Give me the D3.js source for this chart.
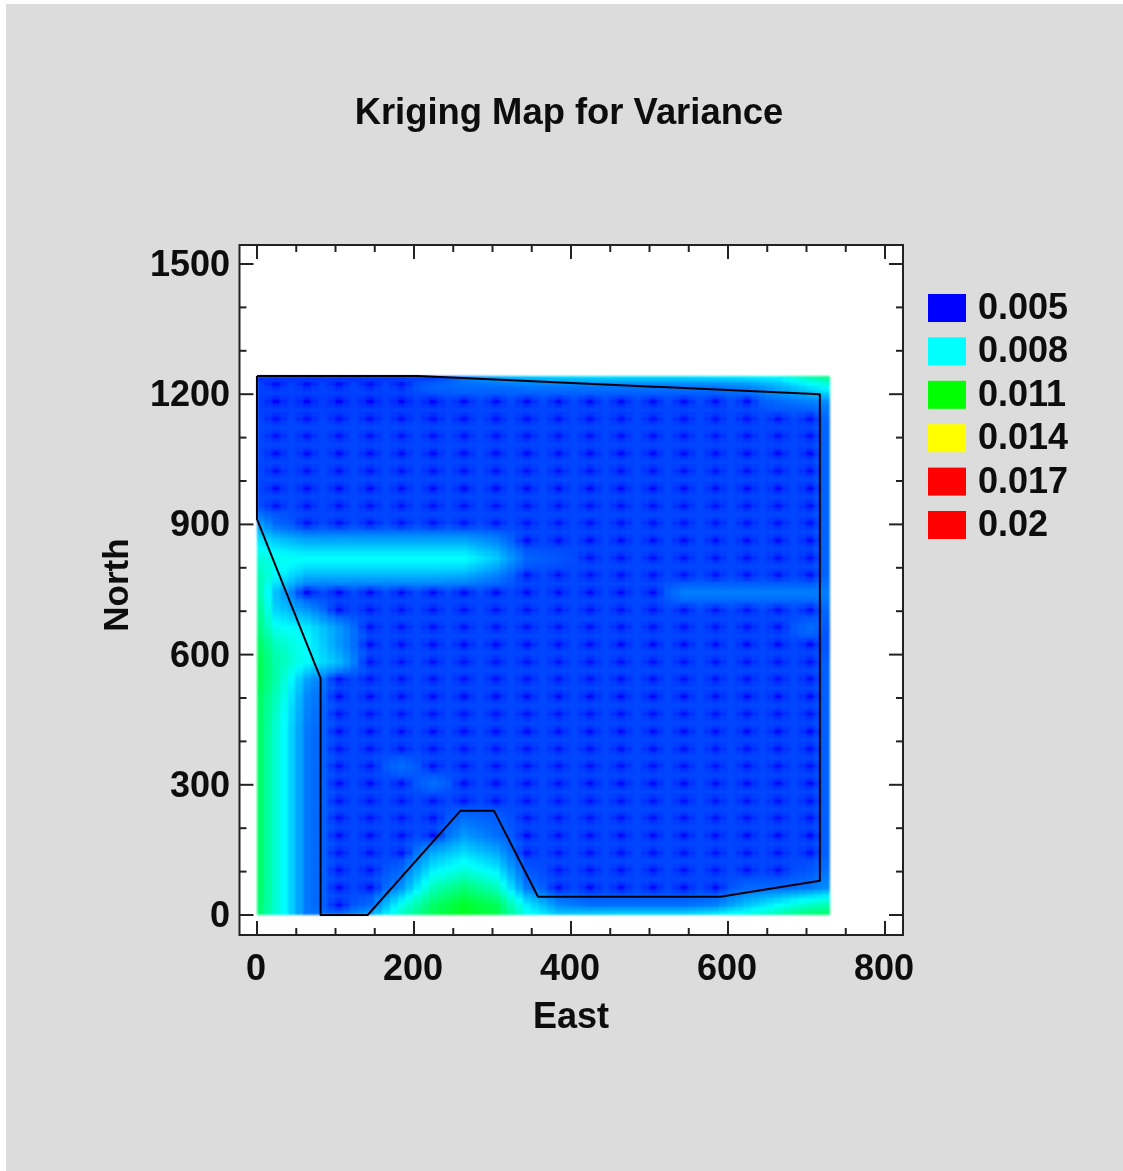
<!DOCTYPE html>
<html><head><meta charset="utf-8">
<script src="https://cdn.jsdelivr.net/npm/d3@7/dist/d3.min.js"></script>
<style>html,body{margin:0;padding:0;background:#fff}svg{display:block}text{font-family:"Liberation Sans",Arial,sans-serif;font-weight:bold;fill:#0c0c0c}</style>
</head><body><div id="chart"></div>
<script>
const titleText = "Kriging Map for Variance";
const xLabel = "East", yLabel = "North";
const xMajor = [0,200,400,600,800];
const xMinor = [50,100,150,250,300,350,450,500,550,650,700,750];
const yMajor = [0,300,600,900,1200,1500];
const yMinor = [100,200,400,500,700,800,1000,1100,1300,1400];
const legendLabels = ["0.005","0.008","0.011","0.014","0.017","0.02"];
const legendValues = [0.005,0.008,0.011,0.014,0.017,0.02];
const legendColors = ["#0000ff","#00ffff","#00ff00","#ffff00","#ff0000","#ff0000"];
const eastNodes = [0,24,64,104,144,184,224,264,304,344,384,424,464,504,544,584,624,664,704,730];
const northNodes = [1242,1220,1181,1141,1101,1061,1021,981,941,901,862,822,782,742,702,662,622,583,543,503,463,423,383,343,304,264,224,184,144,104,64,24,0];
// variance × 10000, one row per north node (top to bottom), one value per east node
const varianceRows = [
[55,55,55,55,55,56,56,64,70,73,75,76,76,76,76,77,78,80,90,95],
[58,58,58,58,58,58,62,63,63,64,64,64,64,64,64,64,66,71,78,82],
[57,57,57,57,57,57,57,58,58,58,58,58,58,58,58,58,59,62,64,66],
[58,58,58,58,58,58,58,58,58,58,58,58,58,58,58,58,58,58,58,63],
[58,58,58,58,58,58,58,58,58,58,58,58,58,58,58,58,58,58,58,63],
[58,58,58,58,58,58,58,58,58,58,58,58,58,58,58,58,58,58,58,63],
[58,58,58,58,58,58,58,58,58,58,58,58,58,58,58,58,58,58,58,63],
[58,58,58,58,58,58,58,58,58,58,58,58,58,58,58,58,58,58,58,63],
[59,59,58,58,58,58,58,58,58,58,58,58,58,58,58,58,58,58,58,63],
[70,62,58,58,58,58,58,58,58,58,58,58,58,58,58,58,58,58,58,63],
[78,74,70,70,70,70,70,70,66,58,58,58,58,58,58,58,58,58,58,63],
[85,82,81,81,81,81,81,81,74,62,60,58,58,58,58,58,58,58,58,63],
[90,80,71,71,71,71,71,70,65,58,58,58,58,58,58,58,58,58,58,63],
[92,72,58,58,58,58,58,58,58,58,58,58,58,58,65,65,65,65,65,65],
[95,75,68,58,58,58,58,58,58,58,58,58,58,58,58,58,58,58,58,63],
[96,82,78,68,58,58,58,58,58,58,58,58,58,58,58,58,58,58,63,60],
[100,88,80,68,58,58,58,58,58,58,58,58,58,58,58,58,58,58,58,60],
[102,90,80,72,58,58,58,58,58,58,58,58,58,58,58,58,58,58,58,62],
[102,90,69,58,58,58,58,58,58,58,58,58,58,58,58,58,58,58,58,62],
[100,88,66,58,58,58,58,58,58,58,58,58,58,58,58,58,58,58,58,62],
[100,86,65,58,58,58,58,58,58,58,58,58,58,58,58,58,58,58,58,62],
[100,85,64,58,58,58,58,58,58,58,58,58,58,58,58,58,58,58,58,62],
[100,85,64,58,58,58,58,58,58,58,58,58,58,58,58,58,58,58,58,62],
[100,85,64,58,58,63,58,58,58,58,58,58,58,58,58,58,58,58,58,62],
[100,85,64,58,58,58,63,58,58,58,58,58,58,58,58,58,58,58,58,62],
[100,85,64,58,58,58,58,58,58,58,58,58,58,58,58,58,58,58,58,62],
[100,85,64,58,58,58,58,63,61,58,58,58,58,58,58,58,58,58,58,62],
[100,85,64,58,58,58,59,68,63,58,58,58,58,58,58,58,58,58,58,62],
[100,85,64,58,58,58,70,76,70,58,58,58,58,58,58,58,58,58,58,62],
[100,85,64,58,58,62,78,84,78,60,58,58,58,58,58,58,58,58,60,64],
[100,85,64,58,58,67,88,96,88,64,58,58,58,58,58,58,62,62,64,67],
[99,85,64,58,62,82,98,105,100,78,66,63,63,63,63,65,73,80,87,90],
[98,85,64,62,70,87,100,106,101,82,74,75,76,76,76,79,84,90,97,98]
];
const boundaryEast  = [0,205,717,717,590,358,302,259,141,81,81,0,0];
const boundaryNorth = [1242,1242,1200,79,42,42,240,240,0,0,545,912,1242];
// dip around each measured grid node, by cell offset 0,1 (fraction of the drop to 0.005)
const dipByOffset = [[1,0.3],[0.3,0.12]];
const dipThreshold = 59;
const colorStops = [0.005,0.008,0.011,0.014,0.017];
const colorRange = ["#0000ff","#00ffff","#00ff00","#ffff00","#ff0000"];

const W=1123,H=1171;
const svg=d3.select("#chart").append("svg").attr("width",W).attr("height",H);
svg.append("rect").attr("x",6).attr("y",4).attr("width",W-6).attr("height",H-4).attr("fill","#dcdcdc");
const frame={l:239.5,r:903,t:245,b:935};
svg.append("rect").attr("x",frame.l).attr("y",frame.t).attr("width",frame.r-frame.l).attr("height",frame.b-frame.t).attr("fill","#fff");
const x=d3.scaleLinear().domain([0,800]).range([257,885]);
const y=d3.scaleLinear().domain([0,1500]).range([915,264]);
const color=d3.scaleLinear().domain(colorStops).range(colorRange).clamp(true);

function bracket(nodes,v,desc){
  const asc=desc?nodes.slice().reverse():nodes;
  let i=Math.min(Math.max(d3.bisectRight(asc,v)-1,0),asc.length-2);
  const t=(v-asc[i])/(asc[i+1]-asc[i]);
  return desc?{i:nodes.length-2-i,t:1-t}:{i,t};
}
function nearest(nodes,v){ return d3.least(d3.range(nodes.length),k=>Math.abs(nodes[k]-v)); }
function field(e,n){
  const a=bracket(eastNodes,e,false), b=bracket(northNodes,n,true);
  const r0=varianceRows[b.i], r1=varianceRows[b.i+1];
  const top=r0[a.i]*(1-a.t)+r0[a.i+1]*a.t, bot=r1[a.i]*(1-a.t)+r1[a.i+1]*a.t;
  let v=top*(1-b.t)+bot*b.t;
  const ci=nearest(eastNodes,e), ri=nearest(northNodes,n);
  const node=varianceRows[ri][ci];
  const inner=ci>0&&ci<eastNodes.length-1&&ri>0&&ri<northNodes.length-1;
  if(inner&&node<=dipThreshold){
    const dx=Math.abs(Math.round((e-eastNodes[ci])/10)), dy=Math.abs(Math.round((n-northNodes[ri])/10));
    if(dx<2&&dy<2){ v=v-(v-50)*dipByOffset[dy][dx]; }
  }
  return v/10000;
}
const defs=svg.append("defs");
defs.append("clipPath").attr("id","mapClip").append("rect")
  .attr("x",x(0)).attr("y",y(1242)).attr("width",x(730)-x(0)).attr("height",y(0)-y(1242));
defs.append("filter").attr("id","soft").attr("x","-2%").attr("y","-2%").attr("width","104%").attr("height","104%")
  .append("feGaussianBlur").attr("stdDeviation",0.8);
defs.append("filter").attr("id","softText")
  .attr("filterUnits","userSpaceOnUse").attr("x",0).attr("y",0).attr("width",W).attr("height",H)
  .append("feGaussianBlur").attr("stdDeviation",0.45);
const cellE=d3.range(-1,730,10), cellN=d3.range(-1,1242,10);
const cells=[];
cellN.forEach(n=>cellE.forEach(e=>cells.push({e,n,v:field(e+5,n+5)})));
svg.append("g").attr("filter","url(#soft)").append("g").attr("clip-path","url(#mapClip)")
  .selectAll("rect").data(cells).join("rect")
  .attr("x",d=>x(d.e)).attr("y",d=>y(d.n+10))
  .attr("width",x(10)-x(0)+0.4).attr("height",y(0)-y(10)+0.4)
  .attr("fill",d=>color(d.v)).attr("shape-rendering","crispEdges");
// boundary
const line=d3.line().x(d=>x(d[0])).y(d=>y(d[1]));
const soft=svg.append("g").attr("filter","url(#softText)");
soft.append("path").attr("d",line(d3.zip(boundaryEast,boundaryNorth))).attr("fill","none")
  .attr("stroke","#00000e").attr("stroke-width",2).attr("stroke-linejoin","round");
// frame + ticks
const tc="#222";
soft.append("rect").attr("x",frame.l).attr("y",frame.t).attr("width",frame.r-frame.l).attr("height",frame.b-frame.t)
  .attr("fill","none").attr("stroke",tc).attr("stroke-width",2);
function vt(vals,len){ vals.forEach(v=>{
  soft.append("line").attr("x1",x(v)).attr("x2",x(v)).attr("y1",frame.b).attr("y2",frame.b-len).attr("stroke",tc).attr("stroke-width",2);
  soft.append("line").attr("x1",x(v)).attr("x2",x(v)).attr("y1",frame.t).attr("y2",frame.t+len).attr("stroke",tc).attr("stroke-width",2);
});}
function ht(vals,len){ vals.forEach(v=>{
  soft.append("line").attr("y1",y(v)).attr("y2",y(v)).attr("x1",frame.l).attr("x2",frame.l+len).attr("stroke",tc).attr("stroke-width",2);
  soft.append("line").attr("y1",y(v)).attr("y2",y(v)).attr("x1",frame.r).attr("x2",frame.r-len).attr("stroke",tc).attr("stroke-width",2);
});}
vt(xMajor,14);vt(xMinor,7);ht(yMajor,14);ht(yMinor,7);
const fs=36;
soft.selectAll(".xl").data(xMajor).join("text").attr("x",d=>x(d)-1).attr("y",980).attr("text-anchor","middle").attr("font-size",fs).text(d=>d);
soft.selectAll(".yl").data(yMajor).join("text").attr("x",230).attr("y",d=>y(d)+12).attr("text-anchor","end").attr("font-size",fs).text(d=>d);
soft.append("text").attr("x",571).attr("y",1028).attr("text-anchor","middle").attr("font-size",fs).text(xLabel);
soft.append("text").attr("transform","translate(128,585) rotate(-90)").attr("text-anchor","middle").attr("font-size",35).text(yLabel);
soft.append("text").attr("x",569).attr("y",124).attr("text-anchor","middle").attr("font-size",36.4).text(titleText);
// legend
const legY=d3.scaleLinear().domain([legendValues[0],legendValues[5]]).range([294,511]);
const leg=soft.selectAll(".leg").data(legendValues).join("g");
leg.append("rect").attr("x",928).attr("y",d=>legY(d)).attr("width",38).attr("height",28).attr("fill",(d,i)=>legendColors[i]);
leg.append("text").attr("x",978).attr("y",d=>legY(d)+25).attr("font-size",fs).text((d,i)=>legendLabels[i]);
</script></body></html>
